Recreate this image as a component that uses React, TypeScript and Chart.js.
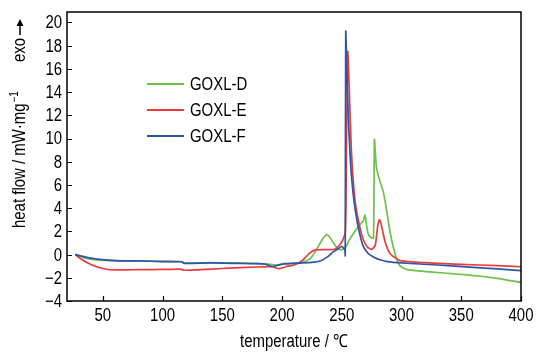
import React, { useEffect, useRef } from 'react';
import { Chart, registerables } from 'chart.js';

Chart.register(...registerables);

// ---- data ----
const tempD = [27, 30, 35, 45, 60, 80, 100, 116, 118, 140, 160, 180, 190, 195, 200, 210, 215, 220, 224, 228, 232, 235, 237.5, 240, 243, 246, 249, 253, 256, 260, 265, 268, 269.5, 270.5, 272, 274, 276.5, 277.3, 279, 282, 285, 288, 290.5, 293, 296, 299, 305, 321, 355, 380, 400];
const heatD = [0, -0.1, -0.3, -0.45, -0.52, -0.55, -0.58, -0.6, -0.72, -0.7, -0.72, -0.78, -0.85, -0.9, -0.85, -0.75, -0.7, -0.55, -0.3, 0.3, 1.0, 1.5, 1.72, 1.5, 1.0, 0.6, 0.4, 0.6, 1.2, 1.85, 2.55, 2.9, 3.4, 2.7, 1.8, 1.5, 1.4, 9.9, 7.5, 6.3, 5.3, 3.5, 1.9, 0.7, -0.4, -1.0, -1.3, -1.47, -1.75, -2.05, -2.4];

const tempE = [27, 32, 40, 50, 60, 80, 100, 115, 118, 140, 160, 180, 192, 197, 203, 210, 216, 220, 224, 228, 240, 244, 248, 251, 253, 254, 255, 256, 258, 261, 265, 268, 271, 275, 278, 280, 281.5, 283, 286, 290, 295, 300, 320, 350, 380, 400];
const heatE = [0, -0.4, -0.85, -1.2, -1.32, -1.3, -1.28, -1.25, -1.35, -1.25, -1.15, -1.07, -1.05, -1.22, -1.05, -0.9, -0.6, -0.2, 0.2, 0.4, 0.42, 0.45, 0.8, 1.3, 2.0, 10, 17.5, 15, 9, 4.7, 2.4, 1.3, 0.7, 0.45, 0.8, 2.4, 3.0, 2.6, 1.2, 0.15, -0.3, -0.55, -0.7, -0.85, -0.95, -1.05];

const tempF = [27, 35, 45, 60, 80, 100, 116, 118, 140, 160, 180, 187, 190, 193, 197, 202, 210, 215, 225, 232, 238, 243, 247, 250, 252.5, 252.9, 253.3, 254.5, 255.6, 257, 258.4, 260.5, 262.6, 265, 268, 272, 276.5, 282, 288, 300, 330, 360, 400];
const heatF = [0, -0.2, -0.4, -0.52, -0.55, -0.6, -0.62, -0.75, -0.72, -0.75, -0.78, -0.85, -1.0, -1.02, -0.9, -0.78, -0.75, -0.73, -0.68, -0.55, -0.2, 0.25, 0.5, 0.7, 0.4, -0.1, 19.2, 15, 11.6, 8.5, 6.4, 4.4, 3.0, 1.8, 0.7, 0.1, -0.2, -0.45, -0.6, -0.72, -0.9, -1.1, -1.38];

const seriesNames = ['GOXL-D', 'GOXL-E', 'GOXL-F'];
const seriesColors = ['#6cc24a', '#ee3a3a', '#2c56a8'];
const xTicks = [50, 100, 150, 200, 250, 300, 350, 400];
const yTicks = [-4, -2, 0, 2, 4, 6, 8, 10, 12, 14, 16, 18, 20];
const xTitle = 'temperature / \u2103';
const yTitleMain = 'heat flow / mW\u00b7mg';
const yTitleSup = '\u22121';
const yTitleExo = 'exo';

const FONT = "'Liberation Sans', Arial, sans-serif";
const SQUEEZE = 0.83; // narrow-font look

const toPoints = (xs: number[], ys: number[]) => xs.map((x, i) => ({ x, y: ys[i] }));
const fmt = (v: number) => (v < 0 ? '\u2212' + Math.abs(v) : String(v));

function text(ctx: CanvasRenderingContext2D, s: string, x: number, y: number, align: CanvasTextAlign, size: number, base: CanvasTextBaseline = 'middle') {
  ctx.save();
  ctx.font = `${size}px ${FONT}`;
  ctx.textAlign = align;
  ctx.textBaseline = base;
  ctx.fillStyle = '#000';
  ctx.translate(x, y);
  ctx.scale(SQUEEZE, 1);
  ctx.fillText(s, 0, 0);
  const w = ctx.measureText(s).width * SQUEEZE;
  ctx.restore();
  return w;
}

const decorPlugin = {
  id: 'decor',
  afterDraw(chart: any) {
    const { ctx, chartArea: a, scales } = chart;
    ctx.save();
    // frame
    ctx.strokeStyle = '#000';
    ctx.lineWidth = 1.5;
    ctx.strokeRect(a.left, a.top, a.right - a.left, a.bottom - a.top);
    // inward ticks + labels
    ctx.lineWidth = 1.2;
    ctx.beginPath();
    for (const v of yTicks) {
      const y = Math.round(scales.y.getPixelForValue(v)) + 0.5;
      ctx.moveTo(a.left, y);
      ctx.lineTo(a.left + 5, y);
    }
    for (const v of xTicks) {
      const x = Math.round(scales.x.getPixelForValue(v)) + 0.5;
      ctx.moveTo(x, a.bottom);
      ctx.lineTo(x, a.bottom - 5);
    }
    ctx.stroke();
    for (const v of yTicks) text(ctx, fmt(v), a.left - 5, scales.y.getPixelForValue(v) + 1, 'right', 18);
    for (const v of xTicks) text(ctx, fmt(v), scales.x.getPixelForValue(v), a.bottom + 15, 'center', 18);
    text(ctx, xTitle, (a.left + a.right) / 2, 342, 'center', 18);

    // legend
    const legY = [84, 110, 136];
    seriesNames.forEach((name, i) => {
      ctx.strokeStyle = seriesColors[i];
      ctx.lineWidth = 2;
      ctx.beginPath();
      ctx.moveTo(147, legY[i]);
      ctx.lineTo(184, legY[i]);
      ctx.stroke();
      text(ctx, name, 190, legY[i] + 1, 'left', 18);
    });

    // y axis title (rotated)
    ctx.translate(25, 228);
    ctx.rotate(-Math.PI / 2);
    const w = text(ctx, yTitleMain, 0, 0, 'left', 18, 'alphabetic');
    text(ctx, yTitleSup, w + 1, -7, 'left', 12, 'alphabetic');
    const exoStart = 166;
    const we = text(ctx, yTitleExo, exoStart, 0, 'left', 18, 'alphabetic');
    const ax0 = exoStart + we + 3;
    const ax1 = 209;
    ctx.strokeStyle = '#000';
    ctx.fillStyle = '#000';
    ctx.lineWidth = 1.5;
    ctx.beginPath();
    ctx.moveTo(ax0, -5);
    ctx.lineTo(ax1 - 5, -5);
    ctx.stroke();
    ctx.beginPath();
    ctx.moveTo(ax1, -5);
    ctx.lineTo(ax1 - 7, -8.5);
    ctx.lineTo(ax1 - 7, -1.5);
    ctx.closePath();
    ctx.fill();
    ctx.restore();
  },
};

export default function App() {
  const ref = useRef<HTMLCanvasElement>(null);
  useEffect(() => {
    document.body.style.margin = '0';
    const canvas = ref.current!;
    const chart = new Chart(canvas, {
      type: 'line',
      data: {
        datasets: [
          { label: seriesNames[0], data: toPoints(tempD, heatD), borderColor: seriesColors[0], order: 2 },
          { label: seriesNames[1], data: toPoints(tempE, heatE), borderColor: seriesColors[1], order: 1 },
          { label: seriesNames[2], data: toPoints(tempF, heatF), borderColor: seriesColors[2], order: 0 },
        ].map((d) => ({ ...d, borderWidth: 1.7, pointRadius: 0, fill: false, tension: 0.2 })),
      },
      options: {
        animation: false,
        responsive: false,
        devicePixelRatio: 1,
        layout: { padding: { top: 12, right: 17, left: 0, bottom: 0 } },
        plugins: { legend: { display: false }, tooltip: { enabled: false } },
        scales: {
          x: {
            type: 'linear',
            min: 20,
            max: 400,
            grid: { display: false, drawTicks: false },
            border: { display: false },
            ticks: { display: false },
            afterBuildTicks: (s: any) => { s.ticks = xTicks.map((v) => ({ value: v })); },
            afterFit: (s: any) => { s.height = 52; },
          },
          y: {
            type: 'linear',
            min: -4,
            max: 20.9,
            grid: { display: false, drawTicks: false },
            border: { display: false },
            ticks: { display: false },
            afterBuildTicks: (s: any) => { s.ticks = yTicks.map((v) => ({ value: v })); },
            afterFit: (s: any) => { s.width = 67; },
          },
        },
      },
      plugins: [decorPlugin],
    } as any);
    return () => chart.destroy();
  }, []);
  return <canvas ref={ref} width={538} height={353} style={{ display: 'block' }} />;
}
